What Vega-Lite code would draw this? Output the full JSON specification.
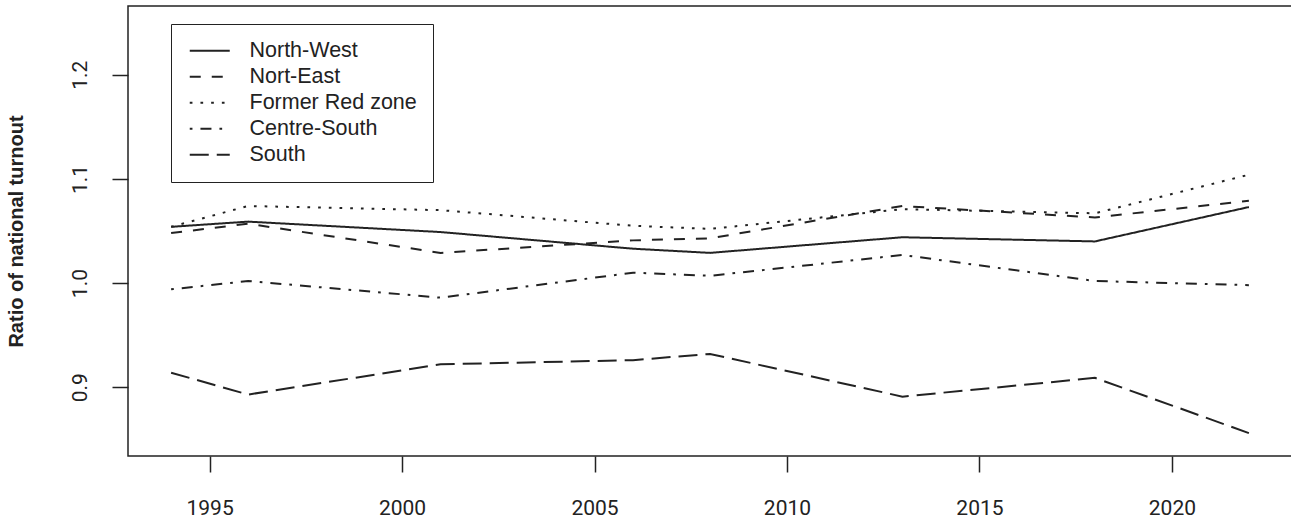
{
  "$schema": "https://vega.github.io/schema/vega-lite/v6.json",
  "width": 1164,
  "height": 450,
  "autosize": {"type": "none"},
  "padding": {"left": 128, "top": 6, "right": 0, "bottom": 65},
  "background": "white",
  "config": {
    "view": {"stroke": "#222", "strokeWidth": 1.5},
    "axis": {"grid": false, "domain": false, "tickColor": "#222", "tickWidth": 1.5, "tickSize": 16, "labelFont": "Roboto", "labelFontSize": 21, "labelColor": "#222"}
  },
  "data": {
    "values": [
      {"region": "North-West", "year": 1994, "ratio": 1.054},
      {"region": "North-West", "year": 1996, "ratio": 1.059},
      {"region": "North-West", "year": 2001, "ratio": 1.049},
      {"region": "North-West", "year": 2006, "ratio": 1.033},
      {"region": "North-West", "year": 2008, "ratio": 1.029},
      {"region": "North-West", "year": 2013, "ratio": 1.044},
      {"region": "North-West", "year": 2018, "ratio": 1.040},
      {"region": "North-West", "year": 2022, "ratio": 1.073},
      {"region": "Nort-East", "year": 1994, "ratio": 1.048},
      {"region": "Nort-East", "year": 1996, "ratio": 1.057},
      {"region": "Nort-East", "year": 2001, "ratio": 1.029},
      {"region": "Nort-East", "year": 2006, "ratio": 1.041},
      {"region": "Nort-East", "year": 2008, "ratio": 1.043},
      {"region": "Nort-East", "year": 2013, "ratio": 1.074},
      {"region": "Nort-East", "year": 2018, "ratio": 1.063},
      {"region": "Nort-East", "year": 2022, "ratio": 1.079},
      {"region": "Former Red zone", "year": 1994, "ratio": 1.054},
      {"region": "Former Red zone", "year": 1996, "ratio": 1.074},
      {"region": "Former Red zone", "year": 2001, "ratio": 1.070},
      {"region": "Former Red zone", "year": 2006, "ratio": 1.055},
      {"region": "Former Red zone", "year": 2008, "ratio": 1.052},
      {"region": "Former Red zone", "year": 2013, "ratio": 1.071},
      {"region": "Former Red zone", "year": 2018, "ratio": 1.067},
      {"region": "Former Red zone", "year": 2022, "ratio": 1.104},
      {"region": "Centre-South", "year": 1994, "ratio": 0.994},
      {"region": "Centre-South", "year": 1996, "ratio": 1.002},
      {"region": "Centre-South", "year": 2001, "ratio": 0.986},
      {"region": "Centre-South", "year": 2006, "ratio": 1.010},
      {"region": "Centre-South", "year": 2008, "ratio": 1.007},
      {"region": "Centre-South", "year": 2013, "ratio": 1.027},
      {"region": "Centre-South", "year": 2018, "ratio": 1.002},
      {"region": "Centre-South", "year": 2022, "ratio": 0.998},
      {"region": "South", "year": 1994, "ratio": 0.914},
      {"region": "South", "year": 1996, "ratio": 0.893},
      {"region": "South", "year": 2001, "ratio": 0.922},
      {"region": "South", "year": 2006, "ratio": 0.926},
      {"region": "South", "year": 2008, "ratio": 0.932},
      {"region": "South", "year": 2013, "ratio": 0.891},
      {"region": "South", "year": 2018, "ratio": 0.909},
      {"region": "South", "year": 2022, "ratio": 0.856}
    ]
  },
  "mark": {"type": "line", "color": "#222", "strokeWidth": 2, "strokeCap": "butt"},
  "encoding": {
    "x": {
      "field": "year", "type": "quantitative",
      "scale": {"domain": [1992.88, 2023.12], "nice": false, "zero": false},
      "axis": {"title": null, "values": [1995, 2000, 2005, 2010, 2015, 2020], "format": "d", "labelPadding": 25}
    },
    "y": {
      "field": "ratio", "type": "quantitative",
      "scale": {"domain": [0.834, 1.266], "nice": false, "zero": false},
      "axis": {
        "title": "Ratio of national turnout",
        "values": [0.9, 1.0, 1.1, 1.2], "format": ".1f",
        "labelAngle": 270, "labelAlign": "center", "labelBaseline": "bottom", "labelPadding": 22,
        "titleX": -112, "titleY": 225, "titleAngle": 270, "titleAlign": "center", "titleBaseline": "middle",
        "titleFont": "Liberation Sans", "titleFontWeight": "bold", "titleFontSize": 20, "titleColor": "#222"
      }
    },
    "strokeDash": {
      "field": "region", "type": "nominal",
      "scale": {
        "domain": ["North-West", "Nort-East", "Former Red zone", "Centre-South", "South"],
        "range": [[1, 0], [11, 11], [2.7, 8], [2.7, 8, 11, 8], [19, 8]]
      },
      "legend": {
        "title": null, "orient": "none", "legendX": 43, "legendY": 18,
        "padding": 16, "strokeColor": "#222", "fillColor": "white",
        "symbolType": "M-1.6,0H6.4", "symbolSize": 100, "symbolStrokeWidth": 2, "symbolStrokeColor": "#222",
        "labelOffset": 41, "labelFont": "Liberation Sans", "labelFontSize": 21.5, "labelColor": "#222",
        "rowPadding": 3, "labelLimit": 400
      }
    }
  }
}
